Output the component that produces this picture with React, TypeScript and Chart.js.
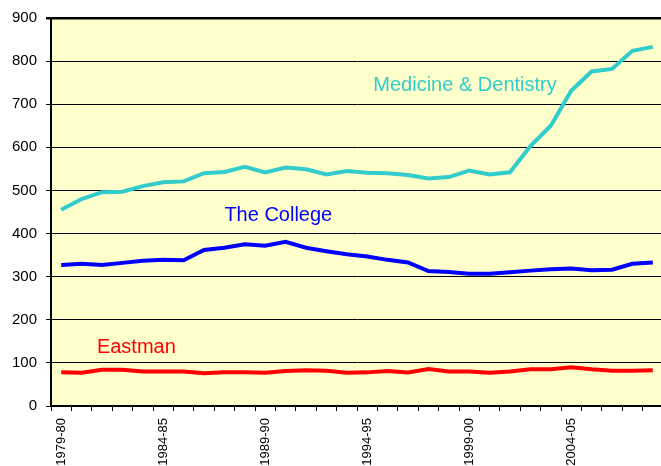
import React, { useEffect, useRef } from "react";
import { Chart, registerables } from "chart.js";

Chart.register(...registerables);

const years: string[] = [
  "1979-80", "1980-81", "1981-82", "1982-83", "1983-84", "1984-85", "1985-86", "1986-87", "1987-88", "1988-89",
  "1989-90", "1990-91", "1991-92", "1992-93", "1993-94", "1994-95", "1995-96", "1996-97", "1997-98", "1998-99",
  "1999-00", "2000-01", "2001-02", "2002-03", "2003-04", "2004-05", "2005-06", "2006-07", "2007-08", "2008-09",
];

const medicine: number[] = [
  455, 480, 496, 497, 510, 519, 521, 540, 543, 555,
  542, 553, 549, 537, 545, 541, 540, 536, 528, 531,
  546, 537, 542, 603, 650, 731, 776, 782, 824, 833,
];

const college: number[] = [
  327, 330, 327, 332, 337, 339, 338, 362, 367, 375,
  372, 381, 367, 359, 352, 347, 339, 333, 313, 311,
  307, 307, 310, 314, 317, 319, 315, 316, 330, 333,
];

const eastman: number[] = [
  78, 77, 84, 84, 80, 80, 80, 76, 78, 78,
  77, 81, 83, 82, 77, 78, 81, 78, 86, 80,
  80, 77, 80, 85, 85, 90, 85, 82, 82, 83,
];

const yTicks: number[] = [0, 100, 200, 300, 400, 500, 600, 700, 800, 900];

const seriesNames: string[] = ["Medicine & Dentistry", "The College", "Eastman"];
const seriesColors: string[] = ["#33CCCC", "#0000FF", "#FF0000"];
// annotation anchors in data space: [category index, value]
const labelIndex: number[] = [15.3, 8.0, 1.75];
const labelValue: number[] = [743, 441, 135];

const FONT = "'Liberation Sans', Arial, sans-serif";

const bgPlugin = {
  id: "plotBg",
  beforeDraw(chart: any) {
    const { ctx, chartArea } = chart;
    ctx.save();
    ctx.fillStyle = "#FFFFCC";
    ctx.fillRect(chartArea.left, chartArea.top, chartArea.right - chartArea.left, chartArea.bottom - chartArea.top);
    ctx.restore();
  },
};

const labelPlugin = {
  id: "seriesLabels",
  afterDatasetsDraw(chart: any) {
    const { ctx, scales } = chart;
    const xs = scales.x;
    const ys = scales.y;
    ctx.save();
    ctx.font = `20px ${FONT}`;
    ctx.textAlign = "left";
    ctx.textBaseline = "middle";
    seriesNames.forEach((name, i) => {
      const i0 = Math.floor(labelIndex[i]);
      const frac = labelIndex[i] - i0;
      const x0 = xs.getPixelForValue(i0);
      const x1 = xs.getPixelForValue(i0 + 1);
      const x = x0 + (x1 - x0) * frac;
      const y = ys.getPixelForValue(labelValue[i]);
      ctx.fillStyle = seriesColors[i];
      ctx.fillText(name, x, y);
    });
    ctx.restore();
  },
};

export default function App() {
  const ref = useRef<HTMLCanvasElement | null>(null);

  useEffect(() => {
    if (!ref.current) return;
    const chart = new Chart(ref.current, {
      type: "line",
      data: {
        labels: years,
        datasets: [medicine, college, eastman].map((d, i) => ({
          label: seriesNames[i],
          data: d,
          borderColor: seriesColors[i],
          backgroundColor: seriesColors[i],
          borderWidth: 4,
          pointRadius: 0,
          tension: 0,
          fill: false,
        })),
      },
      options: {
        responsive: false,
        animation: false,
        devicePixelRatio: 1,
        layout: { padding: { top: 18, right: 0, left: 0, bottom: 0 } },
        plugins: {
          legend: { display: false },
          tooltip: { enabled: false },
          title: { display: false },
        },
        scales: {
          x: {
            type: "category",
            offset: true,
            border: { display: true, color: "#000", width: 2 },
            grid: {
              offset: true,
              drawOnChartArea: false,
              drawTicks: true,
              tickLength: 5,
              color: "#000",
              lineWidth: 1,
            },
            ticks: {
              autoSkip: false,
              maxRotation: 90,
              minRotation: 90,
              padding: 7,
              color: "#000",
              font: { family: FONT, size: 13 },
              callback: (_v: any, idx: number) => (idx % 5 === 0 ? years[idx] : ""),
            },
            afterFit: (scale: any) => {
              scale.height = 60;
              scale.paddingLeft = 0;
              scale.paddingRight = 0;
            },
          },
          y: {
            min: 0,
            max: 900,
            border: { display: true, color: "#000", width: 2 },
            grid: {
              drawTicks: true,
              tickLength: 5,
              color: "#000",
              lineWidth: (c: any) => (c.tick && c.tick.value === 900 ? 2.5 : 1),
            },
            afterBuildTicks: (scale: any) => {
              scale.ticks = yTicks.map((v) => ({ value: v }));
            },
            ticks: {
              padding: 9,
              color: "#000",
              font: { family: FONT, size: 15 },
            },
            afterFit: (scale: any) => {
              scale.width = 51;
            },
          },
        },
      },
      plugins: [bgPlugin, labelPlugin],
    });
    return () => chart.destroy();
  }, []);

  return (
    <div
      style={{
        position: "fixed",
        left: 0,
        top: 0,
        width: 661,
        height: 466,
        overflow: "hidden",
        background: "#fff",
      }}
    >
      <canvas ref={ref} width={663} height={466} style={{ width: 663, height: 466, display: "block" }} />
    </div>
  );
}
